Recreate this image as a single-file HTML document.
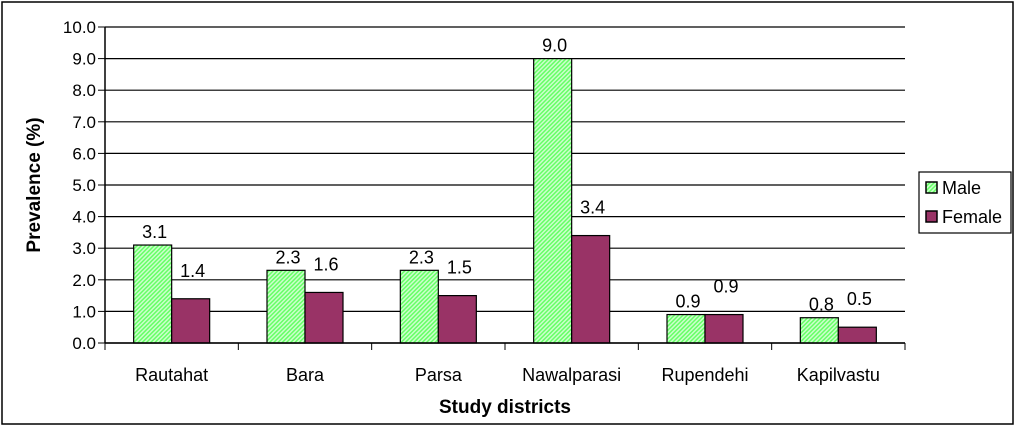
<!DOCTYPE html>
<html><head><meta charset="utf-8"><style>
body{margin:0;background:#fff}
svg{display:block;font-family:"Liberation Sans",Arial,sans-serif}
</style></head><body>
<svg width="1024" height="428" viewBox="0 0 1024 428">
<defs>
<pattern id="hatch" width="3" height="3" patternUnits="userSpaceOnUse" patternTransform="rotate(45)">
<rect width="3" height="3" fill="#ccffcc"/><rect width="1.5" height="3" fill="#66ff66"/>
</pattern>
</defs>
<rect x="2" y="2" width="1011" height="422" fill="#fff" stroke="#000" stroke-width="1.5"/>
<g id="grid"></g>
<g id="bars"></g>
<g id="axes"></g>
<text transform="translate(40,185) rotate(-90)" text-anchor="middle" font-weight="bold" font-size="19">Prevalence (%)</text>
<text x="505" y="413" text-anchor="middle" font-weight="bold" font-size="19">Study districts</text>
<g>
<rect x="919" y="172" width="92" height="61" fill="#fff" stroke="#000" stroke-width="1.2"/>
<g><rect x="926" y="182" width="11" height="11" fill="url(#hatch)" stroke="#000" stroke-width="1.5"/><text x="942" y="194" font-size="18">Male</text></g>
<g><rect x="926" y="211" width="11" height="11" fill="#993366" stroke="#000" stroke-width="1.5"/><text x="942" y="223" font-size="18">Female</text></g>
</g>
</svg>
<script>
const categories=["Rautahat","Bara","Parsa","Nawalparasi","Rupendehi","Kapilvastu"];
const male=[3.1,2.3,2.3,9.0,0.9,0.8];
const female=[1.4,1.6,1.5,3.4,0.9,0.5];
const yTicks=[0,1,2,3,4,5,6,7,8,9,10];
const NS="http://www.w3.org/2000/svg";
const x0=105,x1=905,yb=343,yt=27,ymax=10;
const y=v=>yb-(yb-yt)*v/ymax;
const cw=(x1-x0)/categories.length, bw=38;
function mk(tag,attrs,parent){const e=document.createElementNS(NS,tag);for(const k in attrs)e.setAttribute(k,attrs[k]);parent.appendChild(e);return e;}
const grid=document.getElementById('grid'),bars=document.getElementById('bars'),axes=document.getElementById('axes');
yTicks.forEach(t=>{
 const l=mk('line',{x1:x0,x2:x1,y1:y(t),y2:y(t),stroke:'#000','stroke-width':1.2},grid);
 
 
 mk('line',{x1:x0-7,x2:x0,y1:y(t),y2:y(t),stroke:'#000'},axes);
 const tx=mk('text',{x:x0-9,y:y(t)+6,'text-anchor':'end','font-size':17},axes);
 tx.textContent=t.toFixed(1);
 
 
});
mk('line',{x1:x0,x2:x0,y1:yt,y2:yb,stroke:'#000','stroke-width':1.5},axes);
mk('line',{x1:x0,x2:x1,y1:yb,y2:yb,stroke:'#000','stroke-width':1.5},axes);
categories.forEach((c,i)=>{
 const cx=x0+cw*(i+0.5);
 mk('line',{x1:x0+cw*i,x2:x0+cw*i,y1:yb,y2:yb+7,stroke:'#000'},axes);
 const lab=mk('text',{x:cx,y:381,'text-anchor':'middle','font-size':18},axes);
 lab.textContent=c;
 
 
 [[male[i],'url(#hatch)',cx-bw,'bar-male',7],[female[i],'#993366',cx,'bar-female',22]].forEach(([v,f,bx,n,off])=>{
  const r=mk('rect',{x:bx,y:y(v),width:bw,height:yb-y(v),fill:f,stroke:'#000','stroke-width':1.2},bars);
  
  
  const t=mk('text',{x:bx+bw/2+2,y:y(v)-off,'text-anchor':'middle','font-size':18},bars);
  t.textContent=v.toFixed(1);
  
  
 });
});
mk('line',{x1:x1,x2:x1,y1:yb,y2:yb+7,stroke:'#000'},axes);
</script>
</body></html>
